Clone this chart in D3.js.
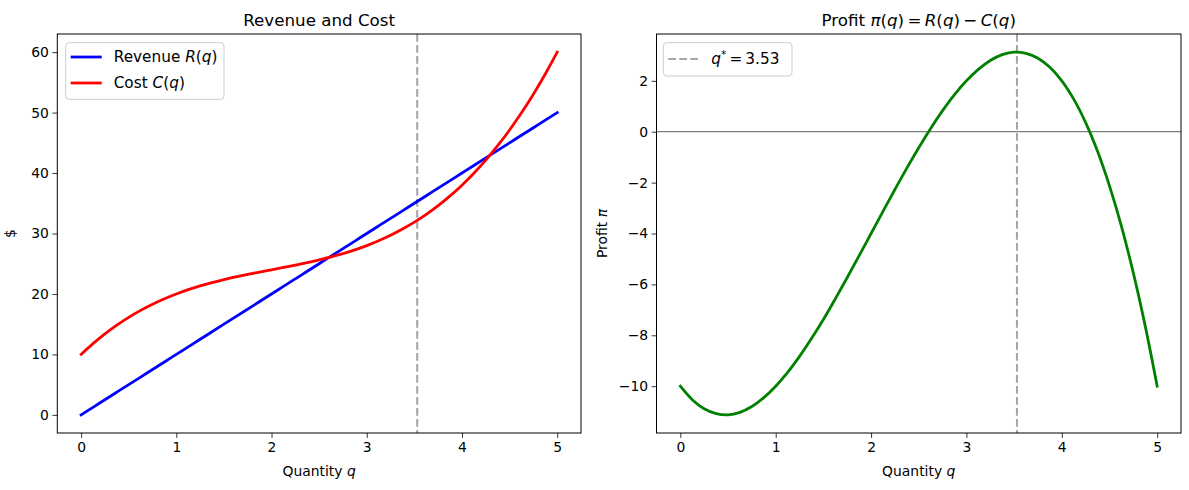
<!DOCTYPE html>
<html><head><meta charset="utf-8">
<script src="https://cdn.jsdelivr.net/npm/d3@7"></script>
<style>
body{margin:0;background:#fff;}
svg{display:block;font-family:"DejaVu Sans",sans-serif;}
</style></head>
<body><div id="chart"></div>
<script>
// ---- data ----
const quantity = [0,0.125,0.25,0.375,0.5,0.625,0.75,0.875,1,1.125,1.25,1.375,1.5,1.625,1.75,1.875,2,2.125,2.25,2.375,2.5,
                  2.625,2.75,2.875,3,3.125,3.25,3.375,3.5,3.625,3.75,3.875,4,4.125,4.25,4.375,4.5,4.625,4.75,4.875,5];
const revenue  = [0,1.25,2.5,3.75,5,6.25,7.5,8.75,10,11.25,12.5,13.75,15,16.25,17.5,18.75,20,21.25,22.5,23.75,25,
                  26.25,27.5,28.75,30,31.25,32.5,33.75,35,36.25,37.5,38.75,40,41.25,42.5,43.75,45,46.25,47.5,48.75,50];
const cost     = [10,11.78,13.39,14.83,16.13,17.28,18.30,19.20,20,20.71,21.33,21.88,22.38,22.82,23.23,23.62,24,24.38,24.77,25.18,25.63,
                  26.12,26.67,27.30,28,28.80,29.70,30.73,31.88,33.17,34.61,36.22,38,39.97,42.14,44.52,47.13,49.96,53.05,56.39,60];
const profit   = [-10,-10.53,-10.89,-11.08,-11.13,-11.03,-10.80,-10.45,-10,-9.46,-8.83,-8.13,-7.38,-6.57,-5.73,-4.87,-4,-3.13,-2.27,-1.43,-0.63,
                  0.13,0.83,1.46,2,2.45,2.80,3.03,3.13,3.08,2.89,2.53,2,1.28,0.36,-0.77,-2.13,-3.71,-5.55,-7.64,-10];
const qStar = 3.53;
const xTicks = [0,1,2,3,4,5];
const leftYTicks = [0,10,20,30,40,50,60];
const rightYTicks = [-10,-8,-6,-4,-2,0,2];

const W = 1189, H = 490;
const svg = d3.select("#chart").append("svg").attr("width", W).attr("height", H);

const yTop = 34, yBot = 433;
const panels = [
  {x0: 57.3, x1: 581, yDomain: [-3, 63], yTicks: leftYTicks},
  {x0: 656.5, x1: 1181, yDomain: [-11.84, 3.84], yTicks: rightYTicks}
];

function fmt(v){ return v < 0 ? "\u2212" + Math.abs(v) : String(v); }

function drawAxes(p){
  const x = d3.scaleLinear().domain([-0.25, 5.25]).range([p.x0, p.x1]);
  const y = d3.scaleLinear().domain(p.yDomain).range([yBot, yTop]);
  const g = svg.append("g");
  const xa = g.append("g").attr("transform", `translate(0,${yBot})`)
    .call(d3.axisBottom(x).tickValues(xTicks).tickFormat(fmt).tickSize(4.9).tickPadding(3.5));
  const ya = g.append("g").attr("transform", `translate(${p.x0},0)`)
    .call(d3.axisLeft(y).tickValues(p.yTicks).tickFormat(fmt).tickSize(4.9).tickPadding(3.5));
  [xa, ya].forEach(a => {
    a.select(".domain").remove();
    a.selectAll(".tick line").attr("stroke", "#000").attr("stroke-width", 0.8);
    a.selectAll(".tick text").attr("fill", "#000").attr("font-size", "13.9px").attr("font-family", "DejaVu Sans");
  });
  xa.selectAll(".tick text").attr("dy", "0.71em").attr("y", 9.4);
  return {x, y, g};
}

function frame(p){
  svg.append("rect").attr("x", p.x0).attr("y", yTop).attr("width", p.x1 - p.x0).attr("height", yBot - yTop)
    .attr("fill", "none").attr("stroke", "#000").attr("stroke-width", 1);
}

const line = (x, y, ys) => d3.line().x((d, i) => x(quantity[i])).y(d => y(d)).curve(d3.curveCatmullRom.alpha(0.5))(ys);

// ---------- left panel ----------
const L = drawAxes(panels[0]);
L.g.append("line").attr("x1", L.x(qStar)).attr("x2", L.x(qStar)).attr("y1", yTop).attr("y2", yBot)
  .attr("stroke", "#a6a6a6").attr("stroke-width", 2.08).attr("stroke-dasharray", "7.7,3.3");
L.g.append("path").attr("d", line(L.x, L.y, revenue)).attr("fill", "none").attr("stroke", "#0000ff").attr("stroke-width", 2.78).attr("stroke-linecap", "square");
L.g.append("path").attr("d", line(L.x, L.y, cost)).attr("fill", "none").attr("stroke", "#ff0000").attr("stroke-width", 2.78).attr("stroke-linecap", "square");
frame(panels[0]);

// ---------- right panel ----------
const R = drawAxes(panels[1]);
R.g.append("line").attr("x1", panels[1].x0).attr("x2", panels[1].x1).attr("y1", R.y(0)).attr("y2", R.y(0))
  .attr("stroke", "#000").attr("stroke-opacity", 0.8).attr("stroke-width", 0.8);
R.g.append("line").attr("x1", R.x(qStar)).attr("x2", R.x(qStar)).attr("y1", yTop).attr("y2", yBot)
  .attr("stroke", "#a6a6a6").attr("stroke-width", 2.08).attr("stroke-dasharray", "7.7,3.3");
R.g.append("path").attr("d", line(R.x, R.y, profit)).attr("fill", "none").attr("stroke", "#008000").attr("stroke-width", 2.78).attr("stroke-linecap", "square");
frame(panels[1]);

// ---------- rich text helper ----------
function rich(parent, parts, attrs){
  const t = parent.append("text");
  Object.entries(attrs).forEach(([k, v]) => t.attr(k, v));
  parts.forEach(pt => {
    const s = t.append("tspan").text(pt.t);
    if (pt.i) s.attr("font-style", "italic");
    if (pt.sup) s.attr("font-size", "70%").attr("baseline-shift", "super");
  });
  return t;
}

// titles
rich(svg, [{t:"Revenue and Cost"}], {x:(panels[0].x0+panels[0].x1)/2, y:26, "text-anchor":"middle", "font-size":"16.7px", fill:"#000"});
rich(svg, [{t:"Profit "},{t:"\u03c0",i:1},{t:"("},{t:"q",i:1},{t:")\u2009=\u2009"},{t:"R",i:1},{t:"("},{t:"q",i:1},{t:")\u2009\u2212\u2009"},{t:"C",i:1},{t:"("},{t:"q",i:1},{t:")"}],
  {x:(panels[1].x0+panels[1].x1)/2, y:26, "text-anchor":"middle", "font-size":"16.7px", fill:"#000"});

// x labels
panels.forEach(p => {
  rich(svg, [{t:"Quantity "},{t:"q",i:1}], {x:(p.x0+p.x1)/2, y:476, "text-anchor":"middle", "font-size":"13.9px", fill:"#000"});
});
// y labels
rich(svg, [{t:"$"}], {transform:`translate(15,${(yTop+yBot)/2}) rotate(-90)`, "text-anchor":"middle", "font-size":"13.9px", fill:"#000"});
rich(svg, [{t:"Profit "},{t:"\u03c0",i:1}], {transform:`translate(607,${(yTop+yBot)/2}) rotate(-90)`, "text-anchor":"middle", "font-size":"13.9px", fill:"#000"});

// legends
function legend(x, y, w, h, items){
  const g = svg.append("g");
  g.append("rect").attr("x", x).attr("y", y).attr("width", w).attr("height", h).attr("rx", 3.5)
    .attr("fill", "#fff").attr("fill-opacity", 0.8).attr("stroke", "#cccccc").attr("stroke-width", 1);
  items.forEach(it => {
    const l = g.append("line").attr("x1", x + 5).attr("x2", x + 36).attr("y1", it.cy).attr("y2", it.cy)
      .attr("stroke", it.color).attr("stroke-width", it.w);
    if (it.dash) l.attr("stroke-dasharray", it.dash);
    rich(g, it.parts, {x: x + 48, y: it.cy + 5.3, "font-size":"15.3px", fill:"#000"});
  });
}
legend(65.7, 42.7, 158.3, 56.6, [
  {cy: 57, color:"#0000ff", w:2.78, parts:[{t:"Revenue "},{t:"R",i:1},{t:"("},{t:"q",i:1},{t:")"}]},
  {cy: 83, color:"#ff0000", w:2.78, parts:[{t:"Cost "},{t:"C",i:1},{t:"("},{t:"q",i:1},{t:")"}]}
]);
legend(663.3, 42.7, 128.7, 33.3, [
  {cy: 59, color:"#a6a6a6", w:2.08, dash:"7.7,3.3", parts:[{t:"q",i:1},{t:"*",sup:1},{t:"\u2009=\u20093.53"}]}
]);
</script>
</body></html>
